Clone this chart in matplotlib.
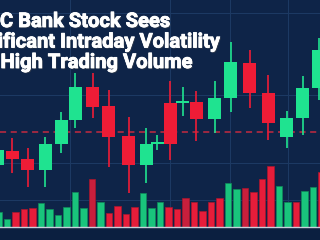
import numpy as np
import matplotlib.pyplot as plt
import matplotlib.patheffects as pe

# candles: minute of session, open, high, low, close
minute = [-3, 12, 27.5, 45, 61, 75, 92.5, 108.5, 128.5, 146, 157, 170, 182.5,
          196, 214.5, 230.5, 249.5, 268, 286.5, 302.5, 318.5]
open_ = [96.7, 98.1, 97.3, 96.2, 98.8, 101.2, 104.5, 102.6, 99.6, 96.7, 98.8,
         102.9, 102.9, 103.0, 101.3, 103.4, 106.9, 103.9, 99.5, 101.4, 104.4]
high = [98.7, 99.4, 98.4, 99.5, 102.0, 105.9, 105.9, 104.2, 101.5, 100.4, 99.7,
        105.1, 104.5, 104.1, 105.1, 109.0, 108.2, 105.7, 102.1, 105.6, 109.4]
low = [96.0, 95.9, 94.5, 94.5, 97.9, 100.4, 101.4, 96.5, 93.9, 94.9, 98.2,
       97.2, 101.6, 99.1, 99.9, 102.0, 102.4, 99.2, 98.4, 99.7, 103.2]
close = [98.2, 97.3, 96.2, 98.8, 101.2, 104.5, 102.5, 99.5, 96.7, 98.8, 98.9,
         98.8, 103.0, 101.3, 103.4, 107.0, 103.9, 100.9, 101.4, 104.4, 108.2]
ref_price = 100.0

# volume (thousand shares), 'g' up / 'r' down
volume = [150, 80, 150, 180, 190, 240, 180, 120, 200, 350, 190, 480, 250,
          140, 210, 130, 200, 340, 190, 250, 200, 180, 290, 250, 160, 250,
          290, 440, 380, 390, 350, 480, 610, 410, 250, 250, 360, 400, 550]
vol_dir = ['g', 'g', 'r', 'r', 'r', 'g', 'g', 'g', 'g', 'g', 'g', 'r', 'g',
           'r', 'r', 'r', 'r', 'g', 'g', 'g', 'r', 'r', 'r', 'r', 'r', 'r',
           'r', 'g', 'g', 'r', 'r', 'r', 'r', 'g', 'g', 'r', 'g', 'g', 'r']
dark_bars = [11, 22, 29]

title_lines = ["ABC Bank Stock Sees", "Significant Intraday Volatility",
               "with High Trading Volume"]

BG = '#0e2448'
UP = '#1fe390'
DOWN = '#ee1c36'
VUP = '#19c47c'
VDOWN = '#e61d3a'

fig = plt.figure(figsize=(3.2, 2.4), dpi=100, facecolor=BG)
ax = fig.add_axes([0, 0, 1, 1], facecolor=BG)
axv = fig.add_axes([0, 0, 1, 1], facecolor='none')

# faint grid
for gy in [13, 95, 163, 200]:
    fig.add_artist(plt.Line2D([0, 1], [1 - gy / 240] * 2, color='#1d3a64', lw=0.7, zorder=0))
for gx in [70, 170, 230, 288]:
    fig.add_artist(plt.Line2D([gx / 320] * 2, [0.05, 1], color='#1d3a64', lw=0.7, zorder=0))

# candles
ax.axhline(ref_price, color='#c42a40', lw=1.1, dashes=(4, 3), zorder=1)
for t, o, h, l, c in zip(minute, open_, high, low, close):
    col = UP if c >= o else DOWN
    ax.vlines(t, l, h, color=col, lw=1.2, zorder=2)
    ax.bar(t, max(abs(c - o), 0.15), bottom=min(o, c), width=13, color=col, zorder=3)
ax.set_xlim(0, 320)
ax.set_ylim(89.2, 113.2)
ax.axis('off')

# volume
idx = np.arange(len(volume))
cols = [VUP if d == 'g' else VDOWN for d in vol_dir]
for i in dark_bars:
    cols[i] = '#c81f3c'
edges = ['#0f8a58' if d == 'g' else '#a8162c' for d in vol_dir]
axv.bar(idx, volume, width=0.82, color=cols, edgecolor=edges, lw=0.5)
axv.set_xlim(0.176, 0.176 + 320 / 8.5)
axv.set_ylim(-130, 2270)
axv.axhline(0, color='#c8d0da', lw=1.0)
axv.axhspan(-130, 0, color='#0b1f40', zorder=0)
axv.axis('off')

# title
ends = [170, 220, 192]
bases = [27, 47.5, 68]
for txt, xe, yb in zip(title_lines, ends, bases):
    fig.text(xe / 320, 1 - yb / 240, txt, ha='right', va='baseline', color='white',
             fontsize=14.5, fontweight='bold', family=['Roboto', 'DejaVu Sans'],
             path_effects=[pe.withSimplePatchShadow(offset=(0.8, -0.8), alpha=0.5),
                           pe.Stroke(linewidth=0.6, foreground='white'), pe.Normal()])

fig.savefig('out.png', dpi=100, facecolor=BG)
